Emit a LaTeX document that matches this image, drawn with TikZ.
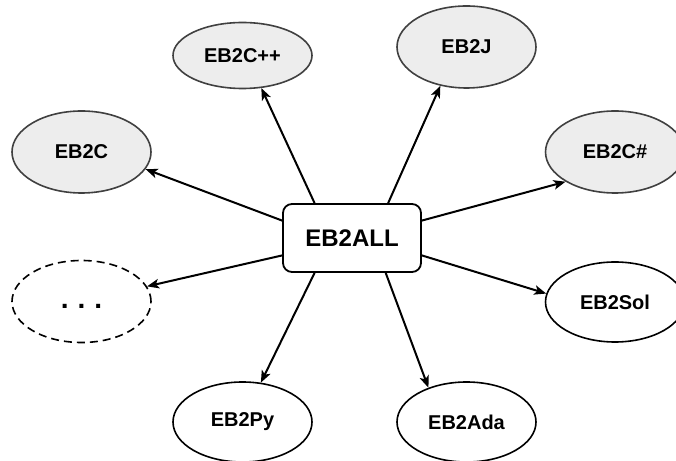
\documentclass[tikz,border=0pt]{standalone}
\usepackage{fontspec}
\setmainfont{Liberation Sans}
\usetikzlibrary{arrows.meta,shapes.geometric}
\tikzset{lang/.style={ellipse,draw=black!75,line width=1.6pt,fill=gray!14,minimum width=139pt,minimum height=82pt,inner sep=0pt},
	newlang/.style={lang,draw=black,fill=none}}
\begin{document}
\begin{tikzpicture}[x=1pt,y=1pt,line join=round,font=\bfseries\fontsize{20}{24}\selectfont,>={Stealth[length=12pt,width=9.5pt,inset=3pt]}]
	\useasboundingbox(0,0)rectangle(676,460);
	\node[draw,line width=1.8pt,rounded corners=9pt,minimum width=138pt,minimum height=68pt,inner sep=0pt,font=\bfseries\fontsize{24}{28}\selectfont](all)at(352,222){EB2ALL};
	\node[lang,minimum height=66pt](cpp)at(242.5,404.5){EB2C++};
	\node[lang](c)at(81.5,308){EB2C};
	\node[lang](j)at(466.5,413){EB2J};
	\node[lang](cs)at(615,308){EB2C\#};
	\node[newlang,dashed,dash pattern=on 8pt off 5pt](etc)at(81.5,158.5){};
	\node[font=\bfseries\fontsize{28}{30}\selectfont,inner sep=0pt,anchor=base](dots)at(etc.center|-0,151){.\hspace{9pt}.\hspace{9pt}.};
	\node[newlang,minimum height=80pt](sol)at(615,158){EB2Sol};
	\node[newlang,minimum height=80pt](py)at(242.5,38){EB2Py};
	\node[newlang,minimum height=80pt](ada)at(466.5,38){EB2Ada};
	\foreach \n/\a/\b in{c/166/-15,cpp/137/-60,j/44/-124,cs/14/-149,etc/-166/13,py/-137/65,sol/-14/173,ada/-46/138}
	\draw[->,line width=2pt](all.\a)--(\n.\b);
\end{tikzpicture}
\end{document}
